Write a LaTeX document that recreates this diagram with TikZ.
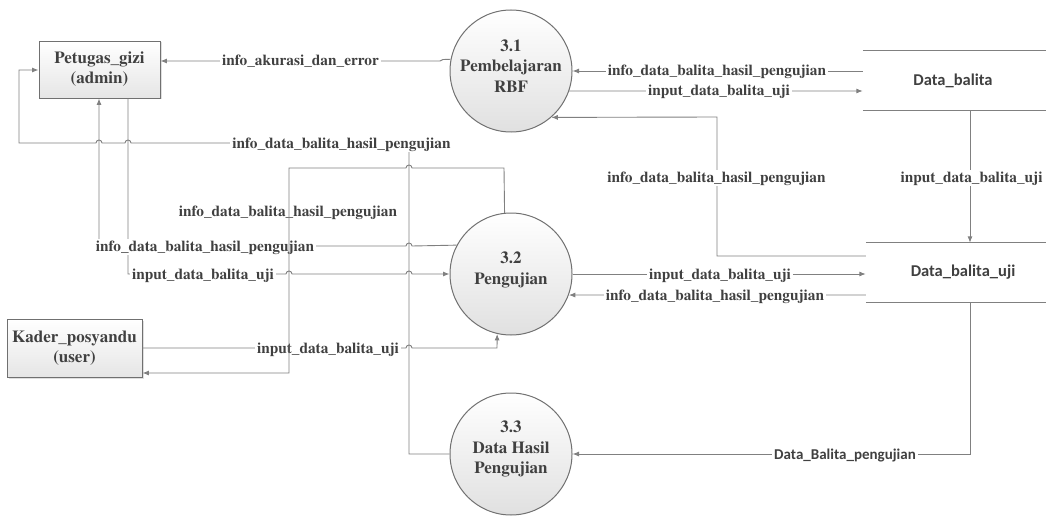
\documentclass[tikz,border=0pt]{standalone}
\usepackage[T1]{fontenc}
\usepackage{fontspec}
\newfontfamily\storefont{Carlito}
% Times (URW Nimbus Roman) bold for process, entity and flow labels
\newcommand\timesbold{\fontencoding{T1}\fontfamily{ptm}\fontseries{b}\selectfont}
\usetikzlibrary{arrows.meta,shadows,calc}
\definecolor{txtgray}{HTML}{404040}
\definecolor{linegray}{HTML}{808080}
\definecolor{edgegray}{HTML}{707070}

\begin{document}
\begin{tikzpicture}[x=1pt,y=-1pt,
  flow/.style={draw=linegray, line width=0.9pt},
  arr/.style={flow, -{Latex[length=6.5pt,width=5pt]}},
  lbl/.style={anchor=base, text=txtgray, font=\fontsize{15.3}{16}\timesbold,
    fill=white, inner xsep=2pt, inner ysep=1pt},
  lblclear/.style={lbl, fill=none},
  slbl/.style={lbl, font=\storefont\bfseries\fontsize{15}{16}\selectfont},
  entity/.style={draw=edgegray, line width=0.9pt, top color=white, bottom color=black!10,
    drop shadow={shadow xshift=1.5pt, shadow yshift=-1.5pt, opacity=0.25},
    align=center, text=txtgray, font=\fontsize{17}{20}\timesbold, inner sep=0},
  process/.style={circle, draw=edgegray, line width=1pt, minimum size=122pt, inner sep=0,
    top color=white, bottom color=black!12},
  ptext/.style={align=center, text=txtgray, font=\fontsize{17}{20.5}\timesbold},
  store/.style={minimum height=59pt, inner sep=0, text=txtgray,
    font=\storefont\bfseries\fontsize{16.5}{18}\selectfont},
  storeline/.style={draw=linegray, line width=1.1pt}]

\useasboundingbox (0,0) rectangle (1046,516);

% external entities
\node[entity, minimum width=121pt, minimum height=57pt] (pg) at (99.5,69.5) {Petugas\_gizi\\(admin)};
\node[entity, minimum width=135pt, minimum height=58pt] (kd) at (74.5,348) {Kader\_posyandu\\(user)};

% processes
\node[process] (p1) at (511,71) {};
\node[ptext] (p1t) at (511,66) {3.1\\Pembelajaran\\RBF};
\node[process] (p2) at (511,274) {};
\node[ptext] (p2t) at (511,270) {3.2\\Pengujian};
\node[process] (p3) at (511,454) {};
\node[ptext] (p3t) at (511,449) {3.3\\Data Hasil\\Pengujian};

% data stores
\node[store, minimum width=180pt] (s1) at (953,80.5) {Data\_balita};
\draw[storeline] (s1.north west) -- ++(200,0);
\draw[storeline] (s1.south west) -- ++(200,0);
\node[store, minimum width=194pt] (s2) at (963,272.5) {Data\_balita\_uji};
\draw[storeline] (s2.north west) -- ++(200,0);
\draw[storeline] (s2.south west) -- ++(200,0);

% 3.1 -> Petugas_gizi
\draw[arr] (p1.169) -- (443,59.5) -- (440,61) -- (pg.east |- 0,61);
\node[lbl] (l1) at (300.5,66) {info\_akurasi\_dan\_error};

% Data_balita <-> 3.1
\draw[arr] (s1.west |- 0,71) -- (p1.east);
\node[lbl] (l2) at (717,76) {info\_data\_balita\_hasil\_pengujian};
\draw[arr] (p1.-19.1) -- (s1.west |- 0,91);
\node[lbl] (l3) at (719,96) {input\_data\_balita\_uji};

% Data_balita -> Data_balita_uji
\draw[arr] (s1.south -| 970,0) -- (s2.north -| 970,0);
\node[lbl] (l4) at (971.5,182) {input\_data\_balita\_uji};

% Data_balita_uji -> 3.1
\draw[arr] (s2.west |- 0,256) -- (717,256) -- (717,117) -- (p1.-49);
\node[lbl] (l5) at (716.5,182) {info\_data\_balita\_hasil\_pengujian};

% 3.2 <-> Data_balita_uji
\draw[arr] (p2.east) -- (s2.west |- p2.east);
\node[lbl] (l6) at (720,279) {input\_data\_balita\_uji};
\draw[arr] (s2.west |- 0,295) -- (p2.-20.1);
\node[lbl] (l7) at (715,300) {info\_data\_balita\_hasil\_pengujian};

% Data_balita_uji -> 3.3
\draw[arr] (s2.south -| 970,0) -- (970,454) -- (p3.east);
\node[slbl] (l8) at (845,459.5) {Data\_Balita\_pengujian};

% 3.3 -> Petugas_gizi
\draw[arr] (p3.west) -- (409,454) -- (409,143) -- (131,143)
  arc[start angle=0, end angle=180, radius=3pt] -- (102,143)
  arc[start angle=0, end angle=180, radius=3pt] -- (19,143) -- (19,70) -- (pg.west |- 0,70);
\node[lbl] (l9) at (341.5,148) {info\_data\_balita\_hasil\_pengujian};

% Petugas_gizi -> 3.2
\draw[arr] (pg.south -| 128,0) -- (128,274) -- (286,274)
  arc[start angle=180, end angle=0, radius=3pt] -- (406,274)
  arc[start angle=180, end angle=0, radius=3pt] -- (p2.west);
\node[lbl] (l10) at (203,279) {input\_data\_balita\_uji};

% 3.2 -> Petugas_gizi
\draw[arr] (p2.152.7) -- (412,246) arc[start angle=0, end angle=180, radius=3pt]
  -- (99,246) -- (pg.south -| 99,0);
\node[lbl] (l11) at (205,251) {info\_data\_balita\_hasil\_pengujian};

% Kader_posyandu -> 3.2
\draw[arr] (kd.east) -- (406,348) arc[start angle=180, end angle=0, radius=3pt]
  -- (497,348) -- (p2.-103.3);
\node[lbl] (l12) at (328,353) {input\_data\_balita\_uji};

% 3.2 -> Kader_posyandu
\node[lblclear] (l13) at (288,216) {info\_data\_balita\_hasil\_pengujian};
\draw[arr] (p2.96.6) -- (504,168) -- (412,168) arc[start angle=0, end angle=180, radius=3pt]
  -- (289,168) -- (289,373) -- (kd.east |- 0,373);
\end{tikzpicture}
\end{document}
